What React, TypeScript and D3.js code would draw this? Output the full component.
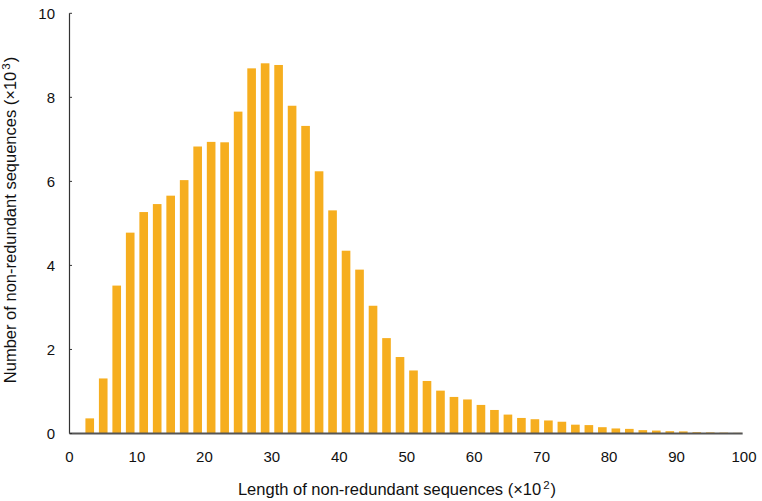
import React from "react";
import * as d3 from "d3";

const binCenters = [
  3, 5, 7, 9, 11, 13, 15, 17, 19, 21, 23, 25, 27, 29, 31, 33, 35, 37, 39, 41, 43, 45, 47, 49,
  51, 53, 55, 57, 59, 61, 63, 65, 67, 69, 71, 73, 75, 77, 79, 81, 83, 85, 87, 89, 91, 93, 95, 97, 99,
];
const counts = [
  0.36, 1.31, 3.52, 4.78, 5.27, 5.46, 5.66, 6.03, 6.83, 6.94, 6.93, 7.66, 8.69, 8.81, 8.77, 7.8,
  7.32, 6.24, 5.31, 4.35, 3.9, 3.04, 2.27, 1.82, 1.5, 1.25, 1.02, 0.87, 0.81, 0.68, 0.56, 0.45,
  0.37, 0.34, 0.31, 0.28, 0.21, 0.2, 0.15, 0.12, 0.11, 0.08, 0.07, 0.055, 0.05, 0.03, 0.025, 0.02, 0.015,
];
const xTicks = [0, 10, 20, 30, 40, 50, 60, 70, 80, 90, 100];
const yTicks = [0, 2, 4, 6, 8, 10];

export default function App() {
  const W = 762;
  const H = 501;
  const x = d3.scaleLinear().domain([0, 100]).range([69.5, 744]);
  const y = d3.scaleLinear().domain([0, 10]).range([433.5, 13.3]);
  const bw = x(1.28) - x(0);
  const font = "Liberation Sans, Arial, sans-serif";
  return (
    <svg
      width={W}
      height={H}
      style={{ position: "absolute", left: 0, top: 0 }}
      fontFamily={font}
    >
      <rect width={W} height={H} fill="#fff" />
      {binCenters.map((c, i) => (
        <rect
          key={c}
          x={x(c) - bw / 2}
          y={y(counts[i])}
          width={bw}
          height={y(0) - y(counts[i])}
          fill="#F6AE1F"
        />
      ))}
      <line x1={x(0)} x2={x(0)} y1={y(10)} y2={y(0)} stroke="#333" strokeWidth={1.2} />
      <line x1={x(0)} x2={x(99.8)} y1={y(0)} y2={y(0)} stroke="#555" strokeWidth={1.8} />
      {yTicks.map((t) => (
        <g key={t}>
          <line x1={x(0)} x2={x(0) + 2.5} y1={y(t)} y2={y(t)} stroke="#333" strokeWidth={1} />
          <text x={55} y={y(t) + 5.5} textAnchor="end" fontSize={15} fill="#111">
            {t}
          </text>
        </g>
      ))}
      {xTicks.map((t) => (
        <text key={t} x={x(t)} y={462} textAnchor="middle" fontSize={15} fill="#111">
          {t}
        </text>
      ))}
      <text x={397} y={495} textAnchor="middle" fontSize={16.5} fill="#111">
        Length of non-redundant sequences (×10
        <tspan dx={2} dy={-6} fontSize={11.5}>2</tspan>
        <tspan dx={1} dy={6}>)</tspan>
      </text>
      <text
        transform={`translate(15.5,220) rotate(-90)`}
        textAnchor="middle"
        fontSize={16.5}
        fill="#111"
      >
        Number of non-redundant sequences (×10
        <tspan dx={2} dy={-6} fontSize={11.5}>3</tspan>
        <tspan dx={1} dy={6}>)</tspan>
      </text>
    </svg>
  );
}
